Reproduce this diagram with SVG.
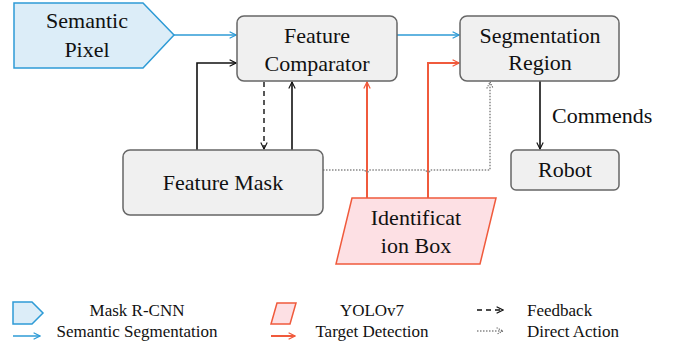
<svg xmlns="http://www.w3.org/2000/svg" width="678" height="350" viewBox="0 0 678 350">
  <defs>
    <style>
      text { font-family: 'Liberation Serif', 'Tinos', 'Times New Roman', 'DejaVu Serif', serif; fill: #111; }
      .lbl { font-size: 22px; text-anchor: middle; }
      .leg { font-size: 17px; }
      .box { fill: #f0f0f0; stroke: #666; stroke-width: 1.5; }
      .seg { fill: #dcedf8; stroke: #2e9bd6; stroke-width: 1.5; }
      .det { fill: #fde0e4; stroke: #f05a3c; stroke-width: 1.5; }
      .blue { fill: none; stroke: #2e9bd6; stroke-width: 1.5; }
      .red { fill: none; stroke: #f05a3c; stroke-width: 2; }
      .blk { fill: none; stroke: #111; stroke-width: 1.6; }
      .dash { fill: none; stroke: #111; stroke-width: 1.4; stroke-dasharray: 5 4; }
      .dot { fill: none; stroke: #888; stroke-width: 1.5; stroke-dasharray: 1.5 1.5; }
    </style>
    <marker id="ah-blue" viewBox="0 0 10 10" refX="9" refY="5" markerWidth="8" markerHeight="8" markerUnits="userSpaceOnUse" orient="auto">
      <polyline points="1,1 9,5 1,9" fill="none" stroke="#2e9bd6" stroke-width="1.5"/>
    </marker>
    <marker id="ah-red" viewBox="0 0 10 10" refX="9" refY="5" markerWidth="8" markerHeight="8" markerUnits="userSpaceOnUse" orient="auto">
      <polyline points="1,1 9,5 1,9" fill="none" stroke="#f05a3c" stroke-width="1.5"/>
    </marker>
    <marker id="ah-blk" viewBox="0 0 10 10" refX="9" refY="5" markerWidth="8" markerHeight="8" markerUnits="userSpaceOnUse" orient="auto">
      <polyline points="1,1 9,5 1,9" fill="none" stroke="#111" stroke-width="1.4"/>
    </marker>
    <marker id="ah-grey" viewBox="0 0 10 10" refX="9" refY="5" markerWidth="8" markerHeight="8" markerUnits="userSpaceOnUse" orient="auto">
      <polyline points="1,1 9,5 1,9" fill="none" stroke="#666" stroke-width="1.4" stroke-dasharray="1.5 1.5"/>
    </marker>
  </defs>

  <rect width="678" height="350" fill="#fff"/>

  <!-- connectors -->
  <g id="connectors">
    <path class="blue" d="M174,35 H236" marker-end="url(#ah-blue)"/>
    <path class="blue" d="M397,35 H459" marker-end="url(#ah-blue)"/>
    <path class="blk" d="M197,150 V63 H236" marker-end="url(#ah-blk)"/>
    <path class="blk" d="M292,150 V82" marker-end="url(#ah-blk)"/>
    <path class="dash" d="M264,82 V149" marker-end="url(#ah-blk)"/>
    <path class="blk" d="M540,81 V149" marker-end="url(#ah-blk)"/>
    <path class="red" d="M367,198 V82" marker-end="url(#ah-red)"/>
    <path class="red" d="M428,198 V63 H459" marker-end="url(#ah-red)"/>
    <path class="dot" d="M323,170 H365 A2,2 0 0 0 369,170 H426 A2,2 0 0 0 430,170 H490 V82" marker-end="url(#ah-grey)"/>
    <text x="552" y="123" font-size="22px">Commends</text>
  </g>

  <!-- nodes -->
  <g id="semantic-pixel">
    <polygon class="seg" points="14,3 143,3 174,35 143,68 14,68"/>
    <text class="lbl" x="87" y="28">Semantic</text>
    <text class="lbl" x="87" y="57">Pixel</text>
  </g>
  <g id="feature-comparator">
    <rect class="box" x="237" y="16" width="160" height="65" rx="7"/>
    <text class="lbl" x="317" y="43">Feature</text>
    <text class="lbl" x="317" y="71">Comparator</text>
  </g>
  <g id="segmentation-region">
    <rect class="box" x="460" y="16" width="159" height="65" rx="7"/>
    <text class="lbl" x="540" y="43">Segmentation</text>
    <text class="lbl" x="540" y="70">Region</text>
  </g>
  <g id="feature-mask">
    <rect class="box" x="123" y="150" width="200" height="65" rx="7"/>
    <text class="lbl" x="223" y="190">Feature Mask</text>
  </g>
  <g id="robot">
    <rect class="box" x="511" y="150" width="108" height="40" rx="5"/>
    <text class="lbl" x="565" y="177">Robot</text>
  </g>
  <g id="identification-box">
    <polygon class="det" points="352,198 496,198 480,264 336,264"/>
    <text class="lbl" x="416" y="225">Identificat</text>
    <text class="lbl" x="416" y="253">ion Box</text>
  </g>

  <!-- legend -->
  <g id="legend">
    <polygon class="seg" points="13,302 32,302 43,313 32,324 13,324"/>
    <path class="blue" d="M13,336 H40" marker-end="url(#ah-blue)"/>
    <text class="leg" x="137" y="316" text-anchor="middle">Mask R-CNN</text>
    <text class="leg" x="137" y="337" text-anchor="middle">Semantic Segmentation</text>

    <polygon class="det" points="277,303 296,303 290,324 271,324"/>
    <path class="red" d="M271,336 H295" marker-end="url(#ah-red)" stroke-width="1.5"/>
    <text class="leg" x="372" y="316" text-anchor="middle">YOLOv7</text>
    <text class="leg" x="372" y="337" text-anchor="middle">Target Detection</text>

    <path class="dash" d="M477,310 H503" marker-end="url(#ah-blk)"/>
    <path class="dot" d="M477,331 H503" marker-end="url(#ah-grey)"/>
    <text class="leg" x="527" y="316">Feedback</text>
    <text class="leg" x="527" y="337">Direct Action</text>
  </g>
</svg>
